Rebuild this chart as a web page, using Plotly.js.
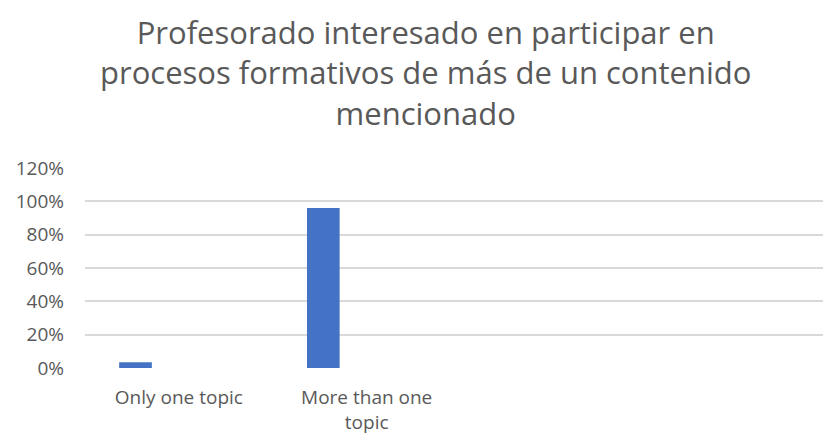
<!DOCTYPE html>
<html><head><meta charset="utf-8">
<script src="https://cdn.plot.ly/plotly-3.0.1.min.js"></script>
<style>html,body{margin:0;padding:0;background:#fff;overflow:hidden}#c{width:823px;height:437px}</style>
</head><body><div id="c"></div>
<script>
const categories = ["Only one topic", "More than one<br>topic"];
const values = [0.035, 0.96];
const yTicks = [0, 0.2, 0.4, 0.6, 0.8, 1.0, 1.2];
const yTickText = ["0%", "20%", "40%", "60%", "80%", "100%", "120%"];
const titleText = "Profesorado interesado en participar en<br>procesos formativos de más de un contenido<br>mencionado";

const xIdx = categories.map((c, i) => i);
const trace = {
  type: 'bar', x: xIdx, y: values,
  marker: {color: '#4472c4'},
  width: 0.174, offset: -0.318,
  hoverinfo: 'none'
};
const layout = {
  width: 823, height: 437,
  margin: {l: 85, r: 0, t: 168, b: 69, pad: 0},
  paper_bgcolor: '#fff', plot_bgcolor: '#fff',
  showlegend: false,
  font: {family: 'Open Sans, sans-serif', color: '#595959'},
  title: {text: ''},
  annotations: [{
    text: titleText, xref: 'paper', yref: 'paper', x: (425 - 85) / 738, y: 1 + (168 - 9) / 200,
    xanchor: 'center', yanchor: 'top', showarrow: false, align: 'center',
    font: {size: 31, color: '#595959', family: 'Open Sans, sans-serif'}
  }],
  xaxis: {range: [-0.5, 3.43], tickvals: xIdx, ticktext: categories, showgrid: false, automargin: false,
          zeroline: false, showline: false, ticks: '', ticklabelstandoff: 16,
          tickfont: {size: 19, color: '#595959'}, fixedrange: true},
  yaxis: {range: [0, 1.2], tickvals: yTicks, ticktext: yTickText, showgrid: true, gridcolor: '#d9d9d9',
          gridwidth: 2, zeroline: false, showline: false, ticks: '', ticklabelstandoff: 20, automargin: false,
          tickfont: {size: 19, color: '#595959'}, fixedrange: true}
};
Plotly.newPlot('c', [trace], layout, {displayModeBar: false, staticPlot: true});
</script></body></html>
